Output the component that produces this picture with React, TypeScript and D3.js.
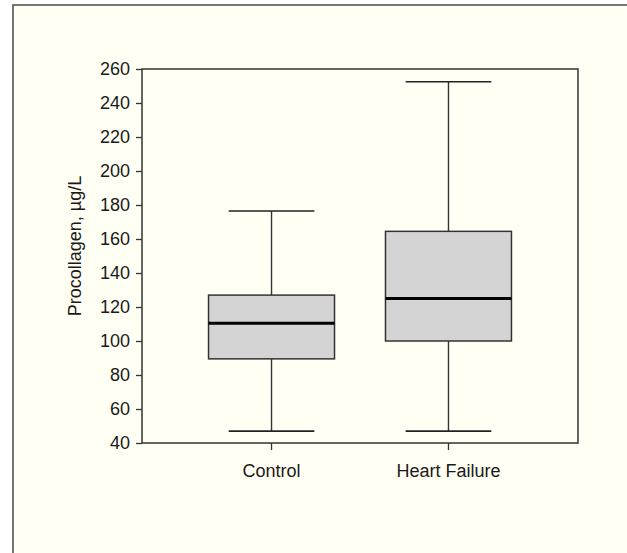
import * as d3 from 'd3';
import { useEffect, useRef } from 'react';

const groups = ['Control', 'Heart Failure'];
const whiskerLow = [47, 47];
const q1 = [89.5, 100];
const median = [110.5, 125];
const q3 = [127, 164.5];
const whiskerHigh = [176.5, 252.5];
const yTicks = [40, 60, 80, 100, 120, 140, 160, 180, 200, 220, 240, 260];
const yLabel = 'Procollagen, µg/L';

const W = 627;
const H = 553;
const margin = { top: 69, right: 49, bottom: 110, left: 142 };
const FONT = '"Liberation Sans", Arial, sans-serif';

export default function App() {
    const xAxisRef = useRef<SVGGElement>(null);
    const yAxisRef = useRef<SVGGElement>(null);

    const innerW = W - margin.left - margin.right;
    const innerH = H - margin.top - margin.bottom;

    const x = d3.scaleBand<string>()
        .domain(groups)
        .range([0, innerW])
        .paddingInner(0.288)
        .paddingOuter(0.376);
    const y = d3.scaleLinear().domain([40, 260]).range([innerH, 0]);

    const bw = x.bandwidth();
    const capW = bw * 0.68;

    useEffect(() => {
        const ya = d3.select(yAxisRef.current!);
        ya.call(d3.axisLeft(y).tickValues(yTicks).tickSize(6).tickPadding(6) as any);
        ya.select('.domain').remove();
        ya.selectAll('.tick line').attr('stroke', '#333').attr('stroke-width', 1.3);
        ya.selectAll('.tick text')
            .attr('fill', '#1a1a1a')
            .style('font-family', FONT)
            .style('font-size', '18px');

        const xa = d3.select(xAxisRef.current!);
        xa.call(d3.axisBottom(x).tickSize(7).tickPadding(14) as any);
        xa.select('.domain').remove();
        xa.selectAll('.tick line').attr('stroke', '#333').attr('stroke-width', 1.3);
        xa.selectAll('.tick text')
            .attr('fill', '#1a1a1a')
            .style('font-family', FONT)
            .style('font-size', '18px');
    }, []);

    return (
        <svg width={W} height={H} style={{ position: 'absolute', left: 0, top: 0 }}>
            <rect x={0} y={0} width={W} height={H} fill="#ffffff" />
            <rect x={13} y={5} width={W + 20} height={H + 20} fill="#fffff3" stroke="#555" strokeWidth={1.6} />
            <g transform={`translate(${margin.left},${margin.top})`}>
                {groups.map((g, i) => {
                    const cx = x(g)! + bw / 2;
                    return (
                        <g key={g}>
                            <line x1={cx} x2={cx} y1={y(whiskerHigh[i])} y2={y(q3[i])} stroke="#333" strokeWidth={1.4} />
                            <line x1={cx} x2={cx} y1={y(q1[i])} y2={y(whiskerLow[i])} stroke="#333" strokeWidth={1.4} />
                            <line x1={cx - capW / 2} x2={cx + capW / 2} y1={y(whiskerHigh[i])} y2={y(whiskerHigh[i])} stroke="#222" strokeWidth={1.6} />
                            <line x1={cx - capW / 2} x2={cx + capW / 2} y1={y(whiskerLow[i])} y2={y(whiskerLow[i])} stroke="#222" strokeWidth={1.6} />
                            <rect x={x(g)} y={y(q3[i])} width={bw} height={y(q1[i]) - y(q3[i])} fill="#d4d4d4" stroke="#333" strokeWidth={1.5} />
                            <line x1={x(g)} x2={x(g)! + bw} y1={y(median[i])} y2={y(median[i])} stroke="#000" strokeWidth={3} />
                        </g>
                    );
                })}
                <rect x={0} y={0} width={innerW} height={innerH} fill="none" stroke="#333" strokeWidth={1.5} />
                <g ref={yAxisRef} />
                <g ref={xAxisRef} transform={`translate(0,${innerH})`} />
                <text
                    transform={`translate(-67,${innerH / 2 - 10}) rotate(-90)`}
                    textAnchor="middle"
                    dy="0.35em"
                    fill="#1a1a1a"
                    style={{ fontFamily: FONT, fontSize: '18px' }}
                >
                    {yLabel}
                </text>
            </g>
        </svg>
    );
}
